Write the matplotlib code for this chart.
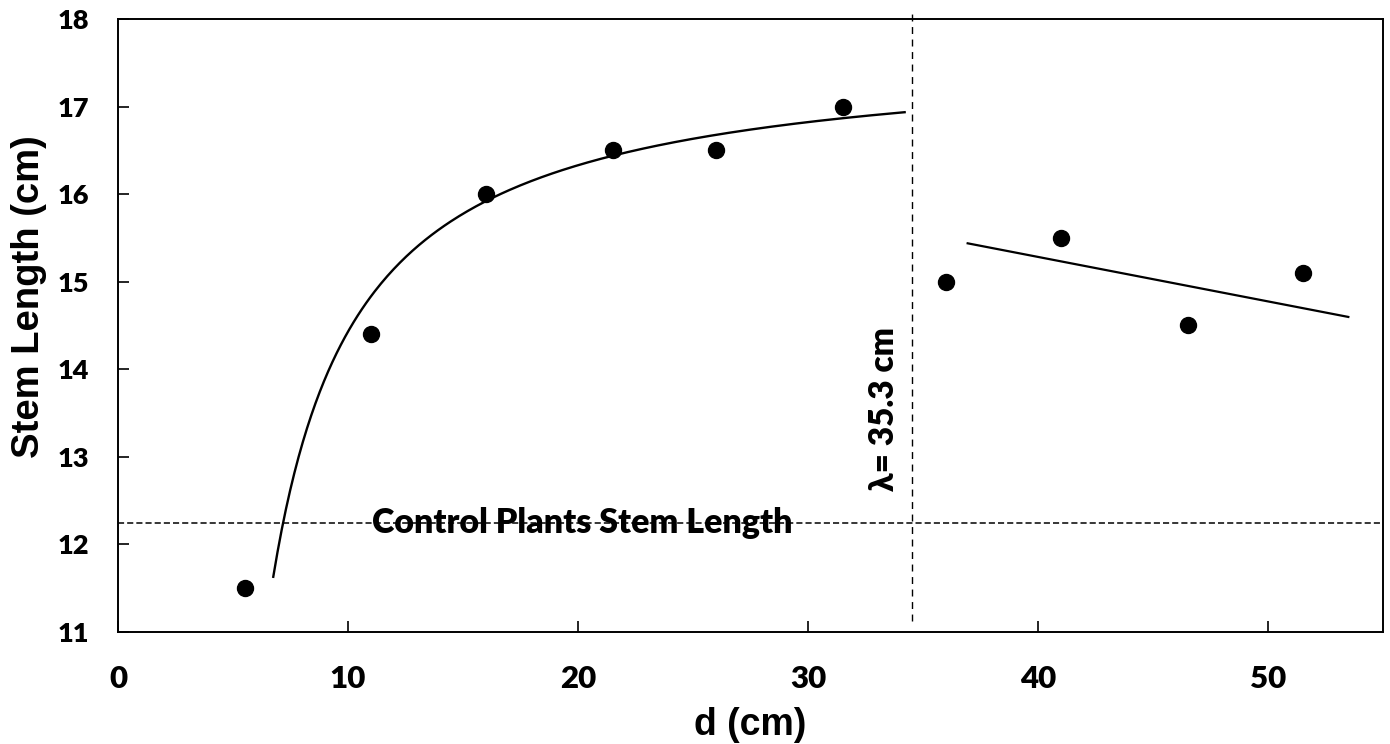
import numpy as np
import matplotlib
matplotlib.use('Agg')
import matplotlib.pyplot as plt

# measured points
d_cm = [5.5, 11, 16, 21.5, 26, 31.5, 36, 41, 46.5, 51.5]
stem_cm = [11.5, 14.4, 16.0, 16.5, 16.5, 17.0, 15.0, 15.5, 14.5, 15.1]

# trend curve below lambda: y = a - b / (d - c)
fit_a, fit_b, fit_c = 17.66, 22.61, 3.0
fit_range = [6.75, 34.2]

# linear trend above lambda
lin_slope, lin_icept = -0.0508, 17.315
lin_range = [36.94, 53.49]

lambda_d = 34.5
lambda_span = [11.13, 18.09]
control_len = 12.25

x_ticks = [0, 10, 20, 30, 40, 50]
y_ticks = [11, 12, 13, 14, 15, 16, 17, 18]

TXT = ['Lato', 'DejaVu Sans']


def main():
    fig, ax = plt.subplots(figsize=(13.9, 7.44), dpi=100)
    fig.subplots_adjust(left=0.0849, right=0.995, top=0.9745, bottom=0.1505)

    # fitted curves
    xs = np.linspace(fit_range[0], fit_range[1], 300)
    ax.plot(xs, fit_a - fit_b / (xs - fit_c), color='black', lw=1.7, zorder=3)
    xl = np.array(lin_range)
    ax.plot(xl, lin_icept + lin_slope * xl, color='black', lw=1.6, zorder=3)

    # data points
    ax.plot(d_cm, stem_cm, 'o', color='black', ms=11.5, zorder=4)

    # reference lines
    ax.plot([0, 55], [control_len, control_len], color='black', lw=1.1,
            dashes=(4, 2), clip_on=False, zorder=2)
    ax.plot([lambda_d, lambda_d], lambda_span, color='black', lw=1.0,
            dashes=(5, 4), clip_on=False, zorder=2)

    ax.text(20.2, 12.13, 'Control Plants Stem Length', family=TXT,
            fontweight='heavy', fontsize=24.5, ha='center', va='baseline', zorder=5)
    ax.text(33.3, 13.55, 'λ= 35.3 cm', family=TXT, fontweight='heavy',
            fontsize=24, rotation=90, ha='center', va='center', zorder=5)

    # axes
    ax.set_xlim(0, 55)
    ax.set_ylim(11, 18)
    ax.set_xticks(x_ticks)
    ax.set_yticks(y_ticks)
    ax.tick_params(direction='in', length=8, width=1.2, colors='black')
    ax.tick_params(axis='x', pad=24)
    ax.tick_params(axis='y', pad=21)
    for lab in ax.get_xticklabels():
        lab.set_family(TXT)
        lab.set_fontweight('heavy')
        lab.set_fontsize(22.5)
    for lab in ax.get_yticklabels():
        lab.set_family(TXT)
        lab.set_fontweight('heavy')
        lab.set_fontsize(19.5)
    for sp in ax.spines.values():
        sp.set_linewidth(1.4)

    ax.set_xlabel('d (cm)', family='Liberation Sans', fontweight='bold',
                  fontsize=27, labelpad=10)
    ax.set_ylabel('Stem Length (cm)', family='Liberation Sans',
                  fontweight='bold', fontsize=27.5)
    ax.yaxis.set_label_coords(-0.056, 0.5465)

    fig.savefig('out.png', dpi=100)
    plt.close(fig)


if __name__ == '__main__':
    main()
